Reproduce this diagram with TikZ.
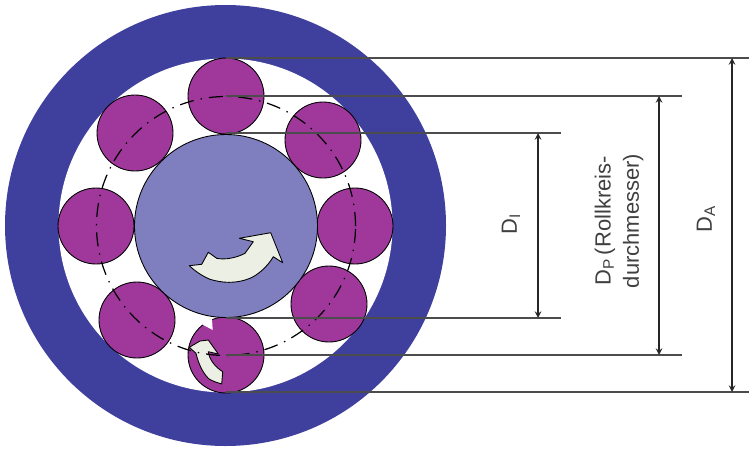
\documentclass[tikz,border=0pt]{standalone}
\usepackage{fontspec}
\setmainfont{Liberation Sans}
\begin{document}
\begin{tikzpicture}[
    x=0.02cm, y=-0.02cm,
    disc/.style={circle, inner sep=0pt, minimum size=#1*0.02cm},
    roller/.style={disc=76, draw=black, line width=0.5pt, fill=rollercol},
    swoosh/.style={draw=black, line width=0.5pt, fill=swooshcol, line join=round},
    extline/.style={line width=1pt, draw=black!70},
    dimarrow/.style={<->, >=stealth, line width=0.7pt, draw=black!85},
    dimtext/.style={rotate=90, align=center, font=\fontsize{12.5}{16}\selectfont, text=black!75}
]
    \definecolor{ringcol}{HTML}{3F3F9E}
    \definecolor{hubcol}{HTML}{7F7FC0}
    \definecolor{rollercol}{HTML}{A0389C}
    \definecolor{swooshcol}{HTML}{ECEFE3}

    % Page
    \path[use as bounding box] (0,0) rectangle (749,450);

    % Outer ring and bore
    \node[disc=441, fill=ringcol] (ring) at (225.5,225.5) {};
    \node[disc=334, fill=white] (bore) at (225.5,225.5) {};

    % Rollers
    \node[roller] (r1) at (226,96) {};
    \node[roller] (r2) at (323,140) {};
    \node[roller] (r3) at (355,226) {};
    \node[roller] (r4) at (329,304) {};
    \node[roller] (r5) at (226,355) {};
    \node[roller] (r6) at (137,320) {};
    \node[roller] (r7) at (96,226) {};
    \node[roller] (r8) at (135,133) {};

    % Inner race
    \node[disc=183, draw=black, line width=0.5pt, fill=hubcol] (hub) at (226,226) {};

    % Notch in the lower roller
    \fill[white] (203.3,325) -- (212.7,330) -- (212,319) -- (200,322) -- cycle;

    % Rotation arrows
    \draw[swoosh] (189.3,265.7) -- (201.7,264.3) -- (208.3,252.3) -- (216.7,258.3)
        .. controls (225,260) and (236,258) .. (245,253.3) -- (253.3,241.7) -- (239.3,238.3)
        -- (270.7,232.7) -- (282.7,262.7) -- (273.3,256.7)
        .. controls (268,266) and (258,275) .. (250,278.3)
        .. controls (236,284) and (222,283) .. (210,279.3)
        .. controls (202,276) and (195,271) .. cycle;
    \draw[swoosh] (189.3,347.3) -- (200,341) -- (208.3,340) -- (218.3,354) -- (208.3,351.7)
        .. controls (209,359) and (215,367) .. (222.7,371.7) -- (221.7,384)
        .. controls (215,382) and (210,380) .. (208.3,378.3)
        .. controls (202,372) and (198,362) .. (196,353.3) -- cycle;

    % Pitch circle
    \node[disc=259, draw=black, line width=0.7pt, dash pattern=on 8pt off 4pt on 0.8pt off 4pt] (pitch) at (226,226) {};

    % End points of the dimension lines
    \coordinate (atop) at (226,58);
    \coordinate (abot) at (226,392);
    \coordinate (ptop) at (226,96);
    \coordinate (pbot) at (226,355);
    \coordinate (itop) at (226,133);
    \coordinate (ibot) at (226,318);
    \coordinate (aendt) at (749,58);
    \coordinate (aendb) at (749,392);
    \coordinate (pendt) at (682,96);
    \coordinate (pendb) at (682,355);
    \coordinate (iendt) at (561,133);
    \coordinate (iendb) at (561,318);
    \coordinate (adimt) at (732,58);
    \coordinate (adimb) at (732,392);
    \coordinate (pdimt) at (659,96);
    \coordinate (pdimb) at (659,355);
    \coordinate (idimt) at (538,133);
    \coordinate (idimb) at (538,318);

    % Extension lines
    \draw[extline] (atop) -- (aendt);
    \draw[extline] (abot) -- (aendb);
    \draw[extline] (ptop) -- (pendt);
    \draw[extline] (pbot) -- (pendb);
    \draw[extline] (itop) -- (iendt);
    \draw[extline] (ibot) -- (iendb);

    % Dimension arrows
    \draw[dimarrow] (adimt) -- (adimb);
    \draw[dimarrow] (pdimt) -- (pdimb);
    \draw[dimarrow] (idimt) -- (idimb);

    % Labels
    \node[dimtext] (di) at (511,224) {D\textsubscript{I}};
    \node[dimtext] (dp) at (619,221) {D\textsubscript{P}\,(Rollkreis-\\durchmesser)};
    \node[dimtext] (da) at (706,219) {D\textsubscript{A}};

\end{tikzpicture}
\end{document}
